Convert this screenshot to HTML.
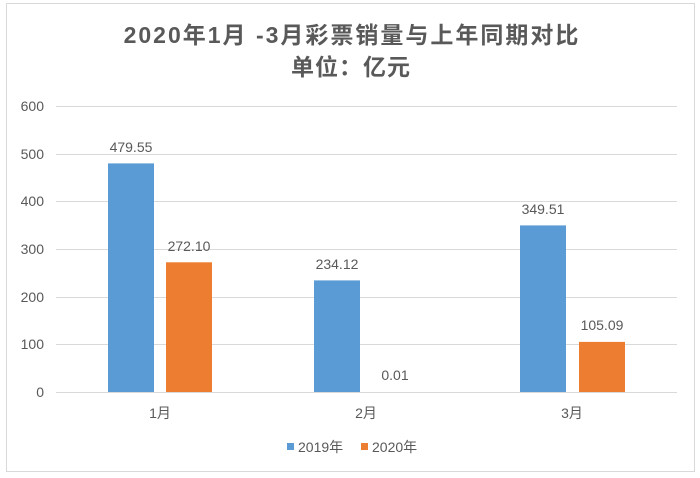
<!DOCTYPE html>
<html><head><meta charset="utf-8"><style>
body{margin:0;background:#fff}
svg{display:block}
text{font-family:"Liberation Sans","Noto Sans CJK SC",sans-serif;fill:#595959}
</style></head><body>
<svg width="700" height="478" viewBox="0 0 700 478">
<rect x="6.5" y="3.5" width="688" height="468" fill="#fff" stroke="#d9d9d9"/>
<text x="352" y="43" text-anchor="middle" font-size="23" font-weight="bold" letter-spacing="2">2020年1月 -3月彩票销量与上年同期对比</text>
<text x="351" y="75" text-anchor="middle" font-size="23" font-weight="bold" letter-spacing="1">单位：亿元</text>
<g stroke="#d9d9d9" stroke-width="1">
<line x1="56" x2="677" y1="106.5" y2="106.5"/>
<line x1="56" x2="677" y1="154.5" y2="154.5"/>
<line x1="56" x2="677" y1="201.5" y2="201.5"/>
<line x1="56" x2="677" y1="249.5" y2="249.5"/>
<line x1="56" x2="677" y1="297.5" y2="297.5"/>
<line x1="56" x2="677" y1="344.5" y2="344.5"/>
<line x1="56" x2="677" y1="392.5" y2="392.5"/>
</g>
<g font-size="14" text-anchor="end">
<text x="44" y="111">600</text><text x="44" y="159">500</text><text x="44" y="206">400</text>
<text x="44" y="254">300</text><text x="44" y="302">200</text><text x="44" y="349">100</text><text x="44" y="397">0</text>
</g>
<g fill="#5b9bd5">
<rect x="108" y="163.4" width="46" height="228.6"/>
<rect x="314" y="280.4" width="46" height="111.6"/>
<rect x="520" y="225.4" width="46" height="166.6"/>
</g>
<g fill="#ed7d31">
<rect x="166" y="262.3" width="46" height="129.7"/>
<rect x="579" y="341.9" width="46" height="50.1"/>
</g>
<g font-size="14" text-anchor="middle">
<text x="131" y="152">479.55</text><text x="189" y="251">272.10</text>
<text x="337" y="269">234.12</text><text x="395" y="380">0.01</text>
<text x="543" y="214">349.51</text><text x="602" y="330">105.09</text>
<text x="160" y="418">1月</text><text x="366" y="418">2月</text><text x="572" y="418">3月</text>
</g>
<rect x="287" y="443" width="7" height="7" fill="#5b9bd5"/>
<text x="298" y="452" font-size="14">2019年</text>
<rect x="361" y="443" width="7" height="7" fill="#ed7d31"/>
<text x="372" y="452" font-size="14">2020年</text>
</svg>
</body></html>
